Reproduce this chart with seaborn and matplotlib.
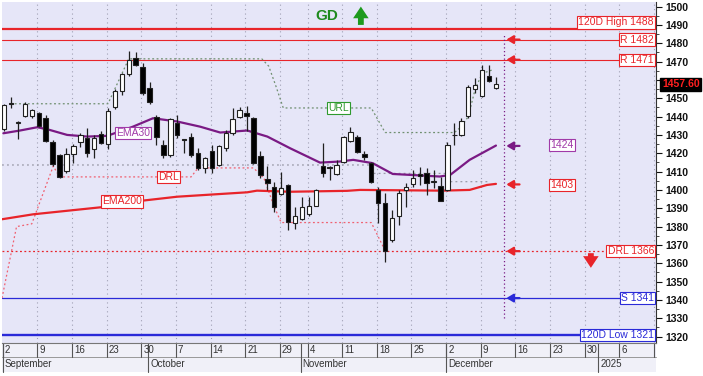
import pandas as pd
import matplotlib
matplotlib.use('Agg')
import matplotlib.pyplot as plt
import seaborn as sns

# ====================== данные ====================== #
# дневные свечи 2 сен - 11 дек 2024 (торговые дни, 28 окт - выходной)
opens = [1433.3, 1447.5, 1436.5, 1440.4, 1440.5, 1441.8, 1439.4, 1426.3, 1419.1, 1410.5,
         1419.6, 1426.2, 1428.5, 1422.2, 1430.4, 1425.1, 1445.5, 1454.2, 1463.1, 1471.8,
         1467.3, 1455.5, 1440.0, 1424.5, 1419.1, 1436.7, 1427.3, 1429.1, 1420.4, 1411.8,
         1421.4, 1413.6, 1422.7, 1430.9, 1440.0, 1441.8, 1439.1, 1418.5, 1406.0, 1401.8,
         1397.8, 1402.7, 1382.2, 1384.2, 1386.7, 1391.4, 1413.1, 1412.7, 1408.6, 1415.4,
         1426.7, 1428.9, 1419.6, 1414.6, 1400.0, 1392.7, 1372.7, 1385.8, 1400.0, 1403.3,
         1408.6, 1409.1, 1404.4, 1402.4, 1400.0, 1429.8, 1430.0, 1440.4, 1454.9, 1451.3,
         1462.2, 1455.5]
highs = [1447.0, 1450.9, 1437.5, 1448.2, 1444.0, 1442.7, 1440.9, 1427.0, 1419.5, 1422.7,
         1425.1, 1430.9, 1433.6, 1430.0, 1432.2, 1444.6, 1455.0, 1464.0, 1476.0, 1475.1,
         1469.3, 1459.1, 1441.0, 1427.3, 1439.5, 1440.9, 1427.5, 1430.9, 1422.7, 1418.2,
         1424.5, 1424.5, 1432.7, 1444.6, 1445.1, 1445.8, 1440.0, 1421.3, 1413.1, 1404.5,
         1410.0, 1403.5, 1390.9, 1396.3, 1396.3, 1400.5, 1425.5, 1413.0, 1416.4, 1429.5,
         1434.5, 1430.0, 1421.5, 1415.0, 1401.8, 1398.2, 1389.1, 1400.0, 1403.6, 1410.9,
         1412.7, 1411.8, 1410.9, 1407.3, 1426.4, 1436.4, 1439.1, 1457.3, 1460.9, 1468.2,
         1468.2, 1461.8]
lows = [1432.0, 1444.6, 1427.7, 1440.0, 1439.1, 1434.5, 1426.0, 1413.0, 1406.4, 1409.1,
        1414.5, 1423.6, 1418.2, 1417.3, 1425.0, 1422.4, 1444.0, 1452.0, 1462.0, 1467.5,
        1452.0, 1447.0, 1424.5, 1417.3, 1418.0, 1428.2, 1420.0, 1418.0, 1410.9, 1409.1,
        1409.1, 1413.0, 1421.3, 1430.0, 1439.0, 1432.0, 1414.0, 1406.4, 1400.0, 1388.2,
        1397.3, 1378.2, 1378.7, 1383.5, 1386.0, 1391.0, 1407.3, 1405.5, 1408.0, 1414.8,
        1426.0, 1420.0, 1416.4, 1404.0, 1381.8, 1360.9, 1371.8, 1380.9, 1390.9, 1401.8,
        1402.7, 1397.3, 1400.9, 1394.0, 1399.5, 1424.5, 1429.5, 1439.5, 1452.8, 1450.9,
        1459.0, 1455.0]
closes = [1446.4, 1447.0, 1437.0, 1446.9, 1443.6, 1434.9, 1426.9, 1414.2, 1407.3, 1419.6,
          1424.0, 1430.0, 1420.0, 1428.2, 1425.8, 1443.3, 1454.2, 1463.1, 1470.8, 1468.2,
          1452.8, 1447.8, 1429.1, 1419.1, 1438.6, 1430.0, 1427.0, 1419.1, 1411.8, 1417.3,
          1411.8, 1424.0, 1430.9, 1438.7, 1443.6, 1440.4, 1414.8, 1408.2, 1403.6, 1390.9,
          1401.3, 1382.7, 1385.8, 1390.9, 1391.3, 1400.0, 1409.1, 1411.8, 1413.6, 1428.7,
          1431.5, 1420.9, 1418.2, 1404.5, 1393.1, 1366.9, 1384.5, 1398.2, 1401.8, 1406.4,
          1407.6, 1404.0, 1404.6, 1394.2, 1424.5, 1430.2, 1437.6, 1456.4, 1457.3, 1465.6,
          1459.6, 1457.6]
last_price = 1457.60

# скользящие средние (узловые точки: номер дня, значение)
ema30_day = [-0.1, 2.3, 4.8, 6.6, 9.1, 12, 14.9, 18.6, 21.5, 25, 28.3, 31.2, 35.1, 38,
             41.3, 45.6, 48.5, 50.4, 53.2, 56.1, 58.6, 62.9, 64.4, 67.2, 71]
ema30_val = [1430.9, 1432.4, 1434.2, 1432.7, 1430.0, 1429.1, 1429.5, 1434.5, 1439.1, 1437.3,
             1434.5, 1431.3, 1432.4, 1429.1, 1422.7, 1414.9, 1415.5, 1416.4, 1414.6, 1408.7,
             1408.2, 1407.3, 1408.2, 1416.4, 1424.2]
ema200_day = [-0.3, 4.2, 14.9, 20.1, 25, 35.1, 36.5, 41.3, 49.5, 51.4, 63.3, 67.2, 69.7, 71]
ema200_val = [1384.0, 1386.7, 1390.9, 1394.2, 1396.3, 1398.7, 1399.6, 1399.0, 1399.5, 1400.0,
              1399.6, 1400.0, 1402.7, 1403.3]

# URL / DRL ступенчатые линии
url_day = [0.9, 15, 18, 37.2, 38.2, 39.2, 40.3, 53, 55, 65, 66, 67, 68, 69, 70.5]
url_val = [1447.0, 1447.0, 1471.5, 1471.5, 1467.5, 1457.0, 1444.7, 1444.7, 1431.3, 1431.3,
           1434.5, 1440.0, 1455.0, 1463.5, 1465.5]
drl_day = [-0.3, 1.8, 4, 7.1, 8, 27, 28, 36, 37.5, 39, 40, 53, 55]
drl_val = [1341.0, 1380.0, 1381.5, 1413.0, 1407.1, 1407.1, 1412.0, 1412.0, 1406.5, 1390.7,
           1382.2, 1382.2, 1366.9]
lrl_day = [-0.3, 53, 53.01, 64, 64.01, 70]
lrl_val = [1413.6, 1413.6, 1409.0, 1409.0, 1404.5, 1404.5]

# уровни справа
level_val = [1488, 1482, 1471, 1366.6, 1341, 1321]
level_lab = ['120D High 1488', 'R 1482', 'R 1471', 'DRL 1366', 'S 1341', '120D Low 1321']
arrow_val = [1482, 1471, 1424, 1403, 1366.6, 1341]

# ====================== оформление ====================== #
sns.set_theme(style='white')
plt.rcParams['font.family'] = ['Liberation Sans', 'DejaVu Sans']

RED = '#E8242A'
BLUE = '#2A2AD8'
PURPLE = '#7A1A84'
GREEN = '#2E9A2E'

# календарь: дальше 11 дек просто будни
cal = pd.bdate_range('2024-09-02', '2025-01-17').drop(pd.Timestamp('2024-10-28'))
days = list(range(len(opens)))

fig = plt.figure(figsize=(7.03, 3.76), dpi=100)
fig.patch.set_facecolor('white')
ax = fig.add_axes([2 / 703, 1 - 343 / 376, 654 / 703, 341 / 376])
ax.set_facecolor('#E6E6F8')
ax.set_xlim(-0.3, 94.1)
ax.set_ylim(1316.5, 1502.5)

# недельные метки
cal_s = pd.Series(range(len(cal)), index=cal)
week_start = cal_s.groupby(cal.to_period('W')).first()
week_pos = [p - 0.2 for p in week_start.values]
week_lab = [str(d.day) for d in cal[week_start.values]]
week_lab[-1] = ''
month_start = cal_s.groupby(cal.to_period('M')).first()
month_pos = [p - 0.2 for p in month_start.values]
month_lab = ['September', 'October', 'November', 'December', '2025']

for p in week_pos[1:]:
    ax.axvline(p, color='#A0A0B4', lw=0.8, ls=(0, (1, 3)), zorder=1)

# горизонтальные уровни
ax.axhline(1488, color=RED, lw=1.6, zorder=2)
ax.axhline(1482, color=RED, lw=0.8, zorder=2)
ax.axhline(1471, color=RED, lw=0.8, zorder=2)
ax.axhline(1366.6, color=RED, lw=0.9, ls=(0, (1.5, 2)), zorder=2)
ax.axhline(1341, color=BLUE, lw=0.9, zorder=2)
ax.axhline(1321, color=BLUE, lw=1.7, zorder=2)

sns.lineplot(x=lrl_day, y=lrl_val, ax=ax, color='#9A9AA8', lw=0.9, linestyle=(0, (1.5, 2.5)), zorder=2)
sns.lineplot(x=url_day, y=url_val, ax=ax, color='#6F8F6F', lw=0.9, linestyle=(0, (1.5, 2)), zorder=2)
sns.lineplot(x=drl_day, y=drl_val, ax=ax, color='#F06070', lw=0.9, linestyle=(0, (1.5, 2)), zorder=2)
sns.lineplot(x=ema200_day, y=ema200_val, ax=ax, color=RED, lw=1.6, zorder=3)
sns.lineplot(x=ema30_day, y=ema30_val, ax=ax, color=PURPLE, lw=1.6, zorder=3)

# свечи
ax.vlines(days, lows, highs, color='#202020', lw=0.9, zorder=4)
body_col = ['white' if c >= o else 'black' for o, c in zip(opens, closes)]
heights = [c - o if abs(c - o) > 0.3 else 0.3 for o, c in zip(opens, closes)]
ax.bar(days, heights, bottom=opens, width=0.64, color=body_col, edgecolor='#202020',
       linewidth=0.8, zorder=5)

# текущий день
ax.vlines(72.1, 1330, 1484.6, color=PURPLE, lw=0.9, ls=(0, (1, 2)), zorder=3)
arrow_col = [RED, RED, PURPLE, RED, RED, BLUE]
for v, c in zip(arrow_val, arrow_col):
    ax.annotate('', xy=(72.5, v), xytext=(74.4, v),
                arrowprops=dict(arrowstyle='-|>,head_length=0.5,head_width=0.3',
                                color=c, lw=1.6, mutation_scale=8, shrinkA=0, shrinkB=0))

# подписи
def tag(x, y, s, c, ha='center', va='center'):
    ax.text(x, y, s, color=c, fontsize=7.5, ha=ha, va=va, zorder=6,
            bbox=dict(boxstyle='square,pad=0.12', fc='white', ec=c, lw=0.8))

for v, s in zip(level_val, level_lab):
    c = BLUE if v < 1350 else RED
    tag(93.8, v + (0.6 if v == 1488 else 0), s, c, ha='right',
        va='bottom' if v == 1488 else 'center')
tag(18.6, 1431.1, 'EMA30', '#A03AA8')
tag(23.7, 1407.1, 'DRL', RED)
tag(17.0, 1393.7, 'EMA200', RED)
tag(48.3, 1444.7, 'URL', GREEN)
tag(80.5, 1424.5, '1424', '#A03AA8')
tag(80.5, 1402.7, '1403', RED)

ax.text(46.6, 1494.6, 'GD', color='#1E8A1E', fontsize=11, fontweight='bold',
        ha='center', va='center')
big_arrow = 'simple,head_width=0.8,head_length=0.6,tail_width=0.3'
ax.annotate('', xy=(51.5, 1500.0), xytext=(51.5, 1490.0),
            arrowprops=dict(arrowstyle=big_arrow, color='#1E9A1E', lw=0, mutation_scale=14,
                            shrinkA=0, shrinkB=0))
ax.annotate('', xy=(84.7, 1357.5), xytext=(84.7, 1365.5),
            arrowprops=dict(arrowstyle=big_arrow, color=RED, lw=0, mutation_scale=14,
                            shrinkA=0, shrinkB=0))

ax.text(1.009, last_price, '1457.60', transform=ax.get_yaxis_transform(), color='#FF2020',
        fontsize=7.5, fontweight='bold', ha='left', va='center', clip_on=False,
        bbox=dict(boxstyle='square,pad=0.15', fc='black', ec='black'))

# ось Y справа
ax.yaxis.tick_right()
yt = list(range(1320, 1501, 10))
ax.set_yticks(yt)
ax.set_yticklabels(['' if v == 1460 else str(v) for v in yt])
ax.set_yticks(range(1325, 1500, 10), minor=True)
ax.tick_params(axis='y', which='major', length=4, width=0.8, pad=3, labelsize=7.5, colors='#111111')
ax.tick_params(axis='y', which='minor', length=2, width=0.6, right=True, left=False)
for t in ax.get_yticklabels():
    t.set_fontweight('bold')
ax.set_xticks([])
for side in ['top', 'left']:
    ax.spines[side].set_visible(False)
ax.spines['right'].set_color('#333333')
ax.spines['right'].set_linewidth(0.8)
ax.spines['bottom'].set_color('#777777')
ax.spines['bottom'].set_linewidth(0.8)

# шкала дат
trans = ax.get_xaxis_transform()
band = plt.Rectangle((-0.3, -0.085), 94.4, 0.085, transform=trans, fc='#F0F0F8',
                     ec='none', clip_on=False, zorder=0)
ax.add_patch(band)
ax.plot([-0.3, 94.1], [-0.042, -0.042], transform=trans, color='#999999', lw=0.7, clip_on=False)
for p, s in zip(week_pos, week_lab):
    ax.plot([p, p], [0, -0.042], transform=trans, color='#555555', lw=0.8, clip_on=False)
    ax.text(p + 0.3, -0.021, s, transform=trans, fontsize=7, color='#333333',
            ha='left', va='center', clip_on=False)
for p, s in zip(month_pos, month_lab):
    ax.plot([p, p], [0, -0.085], transform=trans, color='#555555', lw=0.8, clip_on=False)
    ax.text(p + 0.3, -0.063, s, transform=trans, fontsize=7, color='#333333',
            ha='left', va='center', clip_on=False)

fig.savefig('out.png', dpi=100)
